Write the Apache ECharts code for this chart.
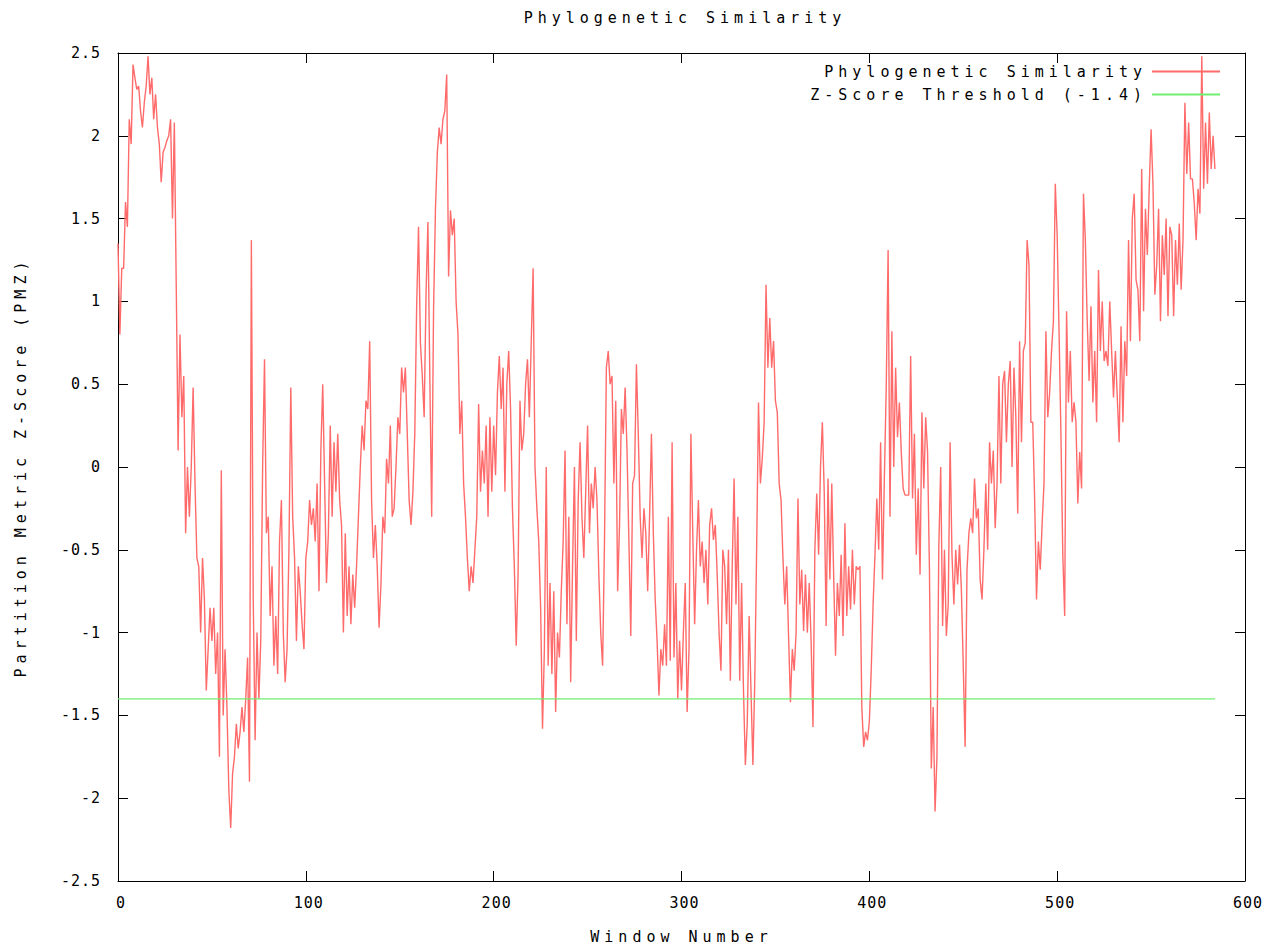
<!DOCTYPE html>
<html>
<head>
<meta charset="utf-8">
<script src="https://cdn.jsdelivr.net/npm/echarts@6/dist/echarts.min.js"></script>
<style>
html,body{margin:0;padding:0;background:#fff;}
#chart{width:1284px;height:949px;}
#chart text{letter-spacing:5px;}
#chart text[style*="monospace"], #chart text[font-family*="monospace"]{letter-spacing:1px;}
</style>
</head>
<body>
<div id="chart"></div>
<script>
// Phylogenetic similarity z-score per window (window number = index)
const pmz = [
  1.35, 0.8, 1.2, 1.2, 1.6, 1.45, 2.1, 1.95, 2.43, 2.35,
  2.28, 2.3, 2.15, 2.05, 2.2, 2.3, 2.48, 2.25, 2.35, 2.1,
  2.25, 2.05, 1.95, 1.72, 1.9, 1.93, 1.97, 2.0, 2.1, 1.5,
  2.08, 1.1, 0.1, 0.8, 0.3, 0.55, -0.4, 0.0, -0.3, 0.0,
  0.48, -0.1, -0.55, -0.6, -1.0, -0.55, -0.8, -1.35, -1.1, -0.85,
  -1.05, -0.85, -1.25, -1.0, -1.75, -0.02, -1.5, -1.1, -1.45, -1.95,
  -2.18, -1.85, -1.75, -1.55, -1.7, -1.6, -1.45, -1.6, -1.4, -1.15,
  -1.9, 1.37, -0.8, -1.65, -1.0, -1.4, -1.05, 0.0, 0.65, -0.4,
  -0.3, -0.9, -0.6, -1.2, -0.9, -1.25, -0.45, -0.2, -1.0, -1.3,
  -1.1, -0.5, 0.48, -0.3, -0.55, -1.05, -0.6, -0.75, -0.95,
  -1.1, -0.55, -0.45, -0.2, -0.35, -0.25, -0.45, -0.1, -0.75, 0.1, 0.5,
  -0.1, -0.7, -0.4, 0.25, -0.3, 0.15, -0.15, 0.2, -0.2, -0.35,
  -1.0, -0.4, -0.9, -0.6, -0.95, -0.65, -0.85, -0.6, -0.3, 0.0,
  0.25, 0.1, 0.4, 0.35, 0.76, -0.2, -0.55, -0.35, -0.6, -0.97,
  -0.7, -0.3, -0.4, 0.05, -0.1, 0.25, -0.3,
  -0.25, 0.0, 0.3, 0.2, 0.6, 0.45, 0.6, 0.2, -0.2, -0.35,
  -0.15, 0.2, 0.97, 1.45, 0.75, 0.55, 0.3, 1.05, 1.48, 0.55,
  -0.3, 0.95, 1.55, 1.9, 2.05, 1.95, 2.1, 2.15, 2.37, 1.15,
  1.55, 1.4, 1.5, 1.0, 0.8, 0.2, 0.4, -0.1, -0.3, -0.55,
  -0.75, -0.6, -0.7, -0.5, -0.3, 0.38, -0.15, 0.1, -0.1,
  0.25, -0.3, 0.3, -0.15, 0.25, -0.05, 0.45, 0.67, 0.35, 0.6,
  -0.15, 0.5, 0.7, 0.35, -0.25, -0.6, -1.08, -0.65, 0.4, 0.1,
  0.2, 0.5, 0.65, 0.3, 0.75, 1.2, 0.0, -0.25, -0.45, -0.85,
  -1.58, -1.1, 0.0, -1.2, -0.7, -1.25, -0.75, -1.48, -1.0, -1.15,
  -0.75, -0.45, 0.1, -0.95, -0.3, -1.3, -0.6, 0.0, -1.05,
  -0.2, 0.15, -0.3, -0.55, -0.15, 0.25, -0.4, -0.1, -0.25, 0.0,
  -0.2, -0.65, -1.0, -1.2, -0.45, 0.6, 0.7, 0.5, 0.55, -0.1,
  0.4, -0.75, -0.35, 0.35, 0.2, 0.48, 0.1, -0.45, -1.02, -0.1,
  -0.05, 0.62, 0.2, -0.3, -0.55, -0.25, -0.4, -0.75, -0.3, 0.2,
  -0.4, -0.8, -1.05, -1.38, -1.1, -1.2, -0.95, -1.2, -0.3,
  -1.17, 0.15, -1.15, -0.7, -1.4, -1.05, -1.35, -1.0, -0.7, -1.48,
  -1.1, 0.2, -0.4, -0.95, -0.5, -0.2, -0.6, -0.45, -0.7, -0.5,
  -0.83, -0.35, -0.25, -0.44, -0.35, -0.65, -1.0, -1.23, -0.5, -0.6,
  -0.95, -0.5, -1.29, -0.6, -0.07, -0.83, -0.3, -1.29, -0.7, -1.35,
  -1.8, -1.55, -0.9, -1.35, -1.8, -1.3, -0.5, 0.39, -0.1,
  0.05, 0.27, 1.1, 0.6, 0.9, 0.6, 0.76, 0.4, 0.33, -0.1,
  -0.2, -0.55, -0.83, -0.6, -1.02, -1.42, -1.1, -1.23, -1.0, -0.19,
  -0.83, -0.62, -0.99, -0.65, -1.0, -0.7, -1.05, -1.57, -0.5, -0.16,
  -0.53, 0.0, 0.27, -0.16, -0.96, -0.07, -0.68, -0.1, -0.65, -1.14,
  -0.7, -0.9, -0.53, -1.02, -0.34, -0.9, -0.6, -0.86, -0.5,
  -0.83, -0.6, -0.62, -0.6, -1.45, -1.69, -1.6, -1.65, -1.54, -1.23,
  -0.83, -0.53, -0.19, -0.5, 0.15, -0.68, -0.07, 0.48, 1.31, -0.3,
  0.82, 0.0, 0.6, 0.18, 0.39, 0.09, -0.13, -0.17, -0.17, -0.17,
  0.67, -0.19, 0.2, -0.53, -0.13, -0.65, 0.33, -0.13, 0.3, 0.09,
  -0.62, -1.82, -1.45, -2.08, -1.75, -0.47, 0.0, -0.96, -0.5,
  -1.02, -0.83, 0.15, -0.53, -0.83, -0.5, -0.71, -0.47, -0.74, -1.2,
  -1.69, -0.62, -0.4, -0.31, -0.4, -0.07, -0.31, -0.25, -0.68, -0.8,
  -0.5, -0.1, -0.5, 0.15, -0.1, 0.1, -0.37, -0.1, 0.55, -0.1,
  0.5, 0.58, 0.15, 0.5, 0.64, 0.0, 0.6, 0.3, -0.28, 0.76,
  0.15, 0.7, 0.75, 1.37, 1.22, 0.27, 0.27, -0.19, -0.8,
  -0.45, -0.62, -0.34, -0.1, 0.82, 0.3, 0.45, 0.7, 0.88, 1.71,
  1.4, 0.82, 0.2, -0.53, -0.9, 0.94, 0.39, 0.7, 0.27, 0.39,
  0.27, -0.22, 0.09, -0.13, 1.65, 1.37, 0.88, 0.52, 0.97, 0.39,
  0.7, 0.27, 1.19, 0.7, 1.0, 0.64, 0.7, 0.61, 1.0, 0.7,
  0.42, 0.7, 0.42, 0.15, 0.85, 0.27, 0.76, 0.55, 1.37,
  0.76, 1.5, 1.65, 1.13, 1.07, 0.76, 1.8, 0.94, 1.56, 1.28,
  1.68, 2.04, 1.71, 1.04, 1.22, 1.56, 0.88, 1.4, 1.16, 1.5,
  0.91, 1.45, 1.4, 0.91, 1.37, 1.1, 1.47, 1.07, 1.37, 2.2,
  1.77, 2.08, 1.74, 1.74, 1.59, 1.37, 1.68, 1.53, 2.48, 1.68,
  2.08, 1.71, 2.14, 1.8, 2.0, 1.8
];
const thresholdValue = -1.4;
const thresholdSpan = [0, 584];
const seriesNames = ['Phylogenetic Similarity', 'Z-Score Threshold (-1.4)'];
const titleText = 'Phylogenetic Similarity';
const xAxisName = 'Window Number';
const yAxisName = 'Partition Metric Z-Score (PMZ)';

const FONT = 'DejaVu Sans Mono';
const txt = {fontFamily: FONT, fontSize: 15, color: '#000', fontWeight: 'normal'};
const tickTxt = {fontFamily: 'DejaVu Sans Mono, monospace', fontSize: 15, color: '#000', fontWeight: 'normal'};
const axisLine = {show: true, onZero: false, lineStyle: {color: '#000', width: 1}};
const tick = {show: true, inside: true, length: 10, lineStyle: {color: '#000', width: 1}};

const chart = echarts.init(document.getElementById('chart'), null, {renderer: 'svg'});
chart.setOption({
  animation: false,
  backgroundColor: '#fff',
  title: {text: titleText, left: 685, top: 10, textAlign: 'center', padding: 0, textStyle: txt},
  grid: {left: 118, right: 39, top: 53, bottom: 67, containLabel: false},
  legend: [
    {data: [seriesNames[0]], right: 64, top: 64, padding: 0, orient: 'vertical', align: 'right',
     icon: 'rect', itemWidth: 68, itemHeight: 2, selectedMode: false, textStyle: txt},
    {data: [seriesNames[1]], right: 64, top: 87, padding: 0, orient: 'vertical', align: 'right',
     icon: 'rect', itemWidth: 68, itemHeight: 2, selectedMode: false, textStyle: txt}
  ],
  xAxis: [
    {type: 'value', position: 'bottom', min: 0, max: 600, interval: 100,
     axisLine: axisLine, axisTick: tick, splitLine: {show: false},
     axisLabel: Object.assign({margin: 14, padding: [0, 0, 0, 6]}, tickTxt),
     name: xAxisName, nameLocation: 'middle', nameGap: 48, nameTextStyle: txt},
    {type: 'value', position: 'top', min: 0, max: 600, interval: 100,
     axisLine: axisLine, axisTick: tick, splitLine: {show: false}, axisLabel: {show: false}}
  ],
  yAxis: [
    {type: 'value', position: 'left', min: -2.5, max: 2.5, interval: 0.5,
     axisLine: axisLine, axisTick: tick, splitLine: {show: false},
     axisLabel: Object.assign({margin: 17}, tickTxt),
     name: yAxisName, nameLocation: 'middle', nameGap: 90, nameTextStyle: txt},
    {type: 'value', position: 'right', min: -2.5, max: 2.5, interval: 0.5,
     axisLine: axisLine, axisTick: tick, splitLine: {show: false}, axisLabel: {show: false}}
  ],
  series: [
    {name: seriesNames[0], type: 'line', xAxisIndex: 0, yAxisIndex: 0,
     data: pmz.map((v, i) => [i, v]), showSymbol: false, symbol: 'none',
     color: '#ff6b6b', lineStyle: {color: '#ff6b6b', width: 1.4}},
    {name: seriesNames[1], type: 'line', xAxisIndex: 0, yAxisIndex: 0,
     data: thresholdSpan.map(x => [x, thresholdValue]), showSymbol: false, symbol: 'none',
     color: '#6fee6f', lineStyle: {color: '#6fee6f', width: 1.4}}
  ]
});
</script>
</body>
</html>
